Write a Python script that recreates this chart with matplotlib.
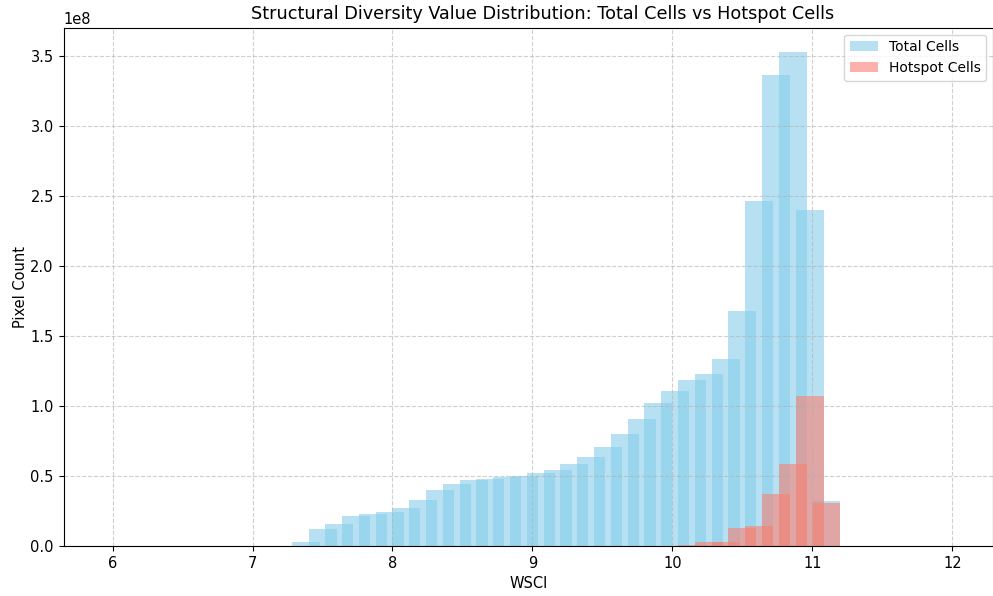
import matplotlib
matplotlib.use("Agg")
import matplotlib.pyplot as plt
import numpy as np

plt.rcParams['font.size'] = 10.5

# histogram bins: 50 bins over WSCI 6..12
bin_edges = np.linspace(6, 12, 51)
bin_centers = (bin_edges[:-1] + bin_edges[1:]) / 2

# pixel counts per bin (millions), only the non-empty stretch is listed
total_first_bin = 11
total_counts_m = [3.1, 11.9, 15.7, 21.4, 22.6, 24.2, 27.3, 33.0, 39.7, 44.0,
                  47.0, 47.8, 49.0, 49.7, 52.0, 54.2, 58.7, 63.6, 70.3, 79.8,
                  90.5, 101.7, 110.5, 118.3, 123.0, 133.1, 167.7, 246.4, 336.4,
                  352.3, 240.0, 32.1]
hotspot_first_bin = 34
hotspot_counts_m = [0.5, 3.1, 3.1, 12.6, 14.3, 36.8, 58.7, 106.9, 30.6]

total = np.zeros(len(bin_centers))
total[total_first_bin:total_first_bin + len(total_counts_m)] = np.array(total_counts_m) * 1e6
hotspot = np.zeros(len(bin_centers))
hotspot[hotspot_first_bin:hotspot_first_bin + len(hotspot_counts_m)] = np.array(hotspot_counts_m) * 1e6

fig = plt.figure(figsize=(9.93, 5.96), dpi=100)
ax = fig.add_axes([0.064, 0.084, 0.936, 0.8695])

ax.bar(bin_centers, total, width=0.2, color='skyblue', alpha=0.6, label='Total Cells')
ax.bar(bin_centers, hotspot, width=0.2, color='salmon', alpha=0.6, label='Hotspot Cells')

ax.set_xlim(5.65, 12.29)
ax.set_title('Structural Diversity Value Distribution: Total Cells vs Hotspot Cells',
             fontsize=12.7, x=0.515)
ax.set_xlabel('WSCI')
ax.set_ylabel('Pixel Count', labelpad=2)
ax.grid(True, linestyle='--', alpha=0.6)
ax.legend(loc='upper right', fontsize=10)

fig.savefig('out.png', dpi=100)
